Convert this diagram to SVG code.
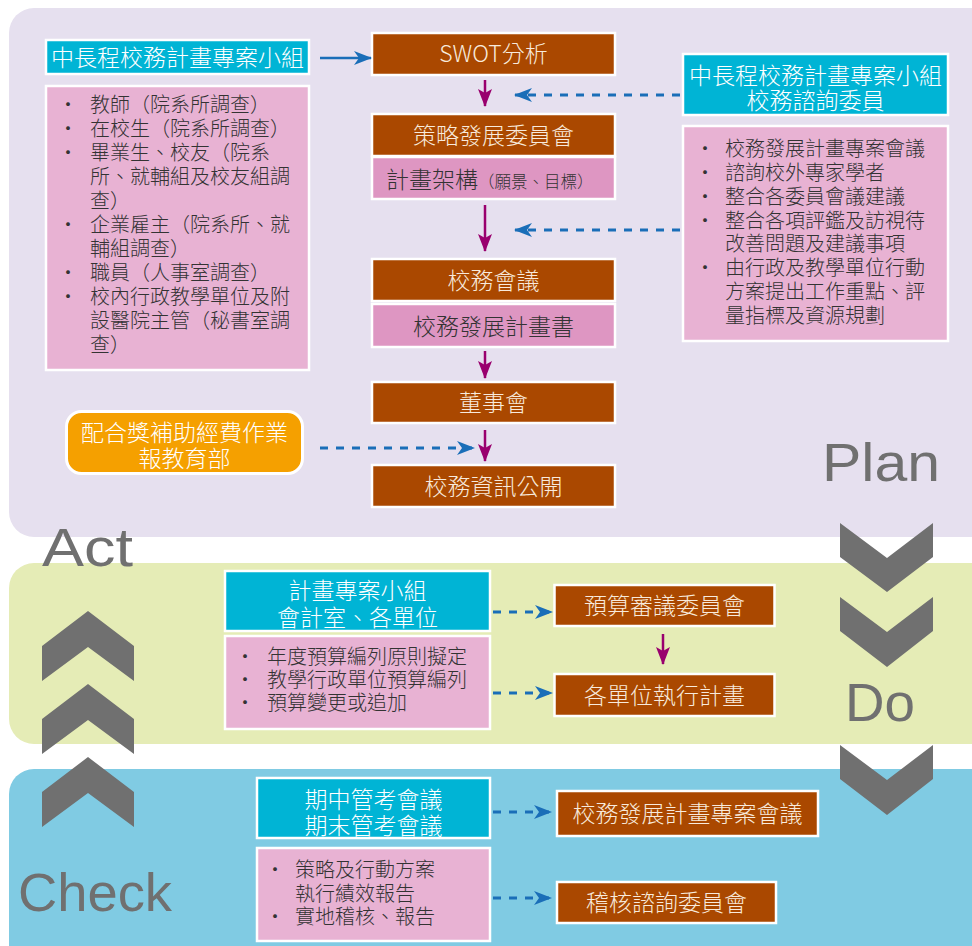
<svg xmlns="http://www.w3.org/2000/svg" width="972" height="946" viewBox="0 0 972 946">
<style>
text{font-family:"Noto Sans CJK TC","Noto Sans CJK SC","Liberation Sans",sans-serif;font-weight:300;}
.brown{fill:#AA4800;stroke:#fff;stroke-width:2.5;}
.cyan{fill:#00B4D5;stroke:#fff;stroke-width:2.5;}
.pink{fill:#E8B2D3;stroke:#fff;stroke-width:2.5;}
.pink2{fill:#DE96C2;stroke:#fff;stroke-width:2.5;}
.orange{fill:#F5A000;stroke:#fff;stroke-width:3;}
.tb{fill:#F8EADC;font-size:23px;text-anchor:middle;}
.tc{fill:#fff;font-size:23px;text-anchor:middle;}
.tp{fill:#333;font-size:20px;}
.bul{fill:#333;font-size:20px;text-anchor:middle;}
.tpc{fill:#333;font-size:23px;text-anchor:middle;}
.chev{fill:#707070;}
.pdca{fill:#707070;font-family:"Liberation Sans","Open Sans",sans-serif;font-weight:400;font-size:53px;}
.solid{stroke:#1A6EB8;stroke-width:2.5;fill:none;}
.dash{stroke:#1A6EB8;stroke-width:3;fill:none;stroke-dasharray:8 8;}
.purple{stroke:#99006E;stroke-width:2.5;fill:none;}
</style>
<defs>
<marker id="ab" markerUnits="userSpaceOnUse" markerWidth="18" markerHeight="14" refX="17" refY="7" orient="auto">
<path d="M0,0 L18,7 L0,14 L5,7 Z" fill="#1A6EB8"/>
</marker>
<marker id="ap" markerUnits="userSpaceOnUse" markerWidth="18" markerHeight="14" refX="17" refY="7" orient="auto">
<path d="M0,0 L18,7 L0,14 L4,7 Z" fill="#99006E"/>
</marker>
</defs>

<g id="panels">
<rect x="9" y="8" width="990" height="529" rx="25" fill="#E6E0EF"/>
<rect x="9" y="563" width="990" height="181" rx="25" fill="#E5ECB6"/>
<rect x="9" y="769" width="990" height="220" rx="25" fill="#80CBE3"/>
</g>

<g id="chevrons">
<polygon class="chev" points="840,523 887,558 933,523 933,557 887,592 840,557"/>
<polygon class="chev" points="840,597 887,632 933,597 933,631 887,667 840,631"/>
<polygon class="chev" points="840,745 887,780 933,745 933,779 887,815 840,779"/>
<polygon class="chev" points="88,611 134,646 134,681 88,647 42,681 42,646"/>
<polygon class="chev" points="88,684 134,719 134,754 88,720 42,754 42,719"/>
<polygon class="chev" points="88,757 134,792 134,827 88,793 42,827 42,792"/>
</g>

<g id="labels">
<text class="pdca" x="822" y="481" textLength="118" lengthAdjust="spacingAndGlyphs">Plan</text>
<text class="pdca" x="42" y="566" textLength="91" lengthAdjust="spacingAndGlyphs">Act</text>
<text class="pdca" x="845" y="721" textLength="70" lengthAdjust="spacingAndGlyphs">Do</text>
<text class="pdca" x="18" y="911" textLength="154" lengthAdjust="spacingAndGlyphs">Check</text>
</g>

<g id="plan-team">
<rect class="cyan" x="46" y="40" width="263" height="34"/>
<text class="tc" x="177.5" y="66">中長程校務計畫專案小組</text>
</g>

<g id="plan-survey">
<rect class="pink" x="46" y="86" width="263" height="284"/>
<text class="bul" x="68" y="112">・</text><text class="tp" x="90" y="112">教師（院系所調查）</text>
<text class="bul" x="68" y="136">・</text><text class="tp" x="90" y="136">在校生（院系所調查）</text>
<text class="bul" x="68" y="160">・</text><text class="tp" x="90" y="160">畢業生、校友（院系</text>
<text class="tp" x="90" y="184">所、就輔組及校友組調</text>
<text class="tp" x="90" y="208">查）</text>
<text class="bul" x="68" y="232">・</text><text class="tp" x="90" y="232">企業雇主（院系所、就</text>
<text class="tp" x="90" y="256">輔組調查）</text>
<text class="bul" x="68" y="280">・</text><text class="tp" x="90" y="280">職員（人事室調查）</text>
<text class="bul" x="68" y="304">・</text><text class="tp" x="90" y="304">校內行政教學單位及附</text>
<text class="tp" x="90" y="328">設醫院主管（秘書室調</text>
<text class="tp" x="90" y="352">查）</text>
</g>

<g id="swot">
<rect class="brown" x="372" y="33" width="243" height="42"/>
<text class="tb" x="493.5" y="62">SWOT分析</text>
</g>

<g id="strategy-committee">
<rect class="brown" x="372" y="114" width="243" height="42"/>
<text class="tb" x="493.5" y="143.5">策略發展委員會</text>
</g>

<g id="plan-framework">
<rect class="pink2" x="372" y="157" width="243" height="42"/>
<text x="386" y="188" fill="#333"><tspan font-size="23">計畫架構</tspan><tspan font-size="16.5">（願景、目標）</tspan></text>
</g>

<g id="school-meeting">
<rect class="brown" x="372" y="259" width="243" height="42"/>
<text class="tb" x="493.5" y="288.5">校務會議</text>
</g>

<g id="dev-plan">
<rect class="pink2" x="372" y="304" width="243" height="43"/>
<text class="tpc" x="493.5" y="334.5">校務發展計畫書</text>
</g>

<g id="board">
<rect class="brown" x="372" y="382" width="243" height="41"/>
<text class="tb" x="493.5" y="411">董事會</text>
</g>

<g id="disclosure">
<rect class="brown" x="372" y="465" width="243" height="42"/>
<text class="tb" x="493.5" y="494.5">校務資訊公開</text>
</g>

<g id="advisory">
<rect class="cyan" x="683" y="54" width="265" height="61"/>
<text class="tc" x="815.5" y="83.5">中長程校務計畫專案小組</text>
<text class="tc" x="815.5" y="108.5">校務諮詢委員</text>
</g>

<g id="advisory-list">
<rect class="pink" x="683" y="126" width="265" height="215"/>
<text class="bul" x="705" y="155.5">・</text><text class="tp" x="725" y="155.5">校務發展計畫專案會議</text>
<text class="bul" x="705" y="179.5">・</text><text class="tp" x="725" y="179.5">諮詢校外專家學者</text>
<text class="bul" x="705" y="203.5">・</text><text class="tp" x="725" y="203.5">整合各委員會議建議</text>
<text class="bul" x="705" y="227.5">・</text><text class="tp" x="725" y="227.5">整合各項評鑑及訪視待</text>
<text class="tp" x="725" y="251">改善問題及建議事項</text>
<text class="bul" x="705" y="275">・</text><text class="tp" x="725" y="275">由行政及教學單位行動</text>
<text class="tp" x="725" y="299">方案提出工作重點、評</text>
<text class="tp" x="725" y="322.5">量指標及資源規劃</text>
</g>

<g id="subsidy">
<rect class="orange" x="66.5" y="411.5" width="236" height="62" rx="15"/>
<text class="tc" x="184.5" y="440.5">配合獎補助經費作業</text>
<text class="tc" x="184.5" y="466.5">報教育部</text>
</g>

<g id="do-team">
<rect class="cyan" x="225" y="571" width="265" height="60"/>
<text class="tc" x="357.5" y="598.5">計畫專案小組</text>
<text class="tc" x="357.5" y="625.5">會計室、各單位</text>
</g>

<g id="do-list">
<rect class="pink" x="225" y="636" width="265" height="93"/>
<text class="bul" x="245" y="664">・</text><text class="tp" x="267" y="664">年度預算編列原則擬定</text>
<text class="bul" x="245" y="687">・</text><text class="tp" x="267" y="687">教學行政單位預算編列</text>
<text class="bul" x="245" y="710">・</text><text class="tp" x="267" y="710">預算變更或追加</text>
</g>

<g id="budget-committee">
<rect class="brown" x="554.5" y="585" width="220" height="41"/>
<text class="tb" x="664.5" y="613.5">預算審議委員會</text>
</g>

<g id="unit-execution">
<rect class="brown" x="554.5" y="674" width="220" height="42"/>
<text class="tb" x="664.5" y="703.5">各單位執行計畫</text>
</g>

<g id="check-meetings">
<rect class="cyan" x="257" y="778" width="233" height="60"/>
<text class="tc" x="373.5" y="807.5">期中管考會議</text>
<text class="tc" x="373.5" y="833.5">期末管考會議</text>
</g>

<g id="check-list">
<rect class="pink" x="257" y="848" width="233" height="93"/>
<text class="bul" x="275" y="876.5">・</text><text class="tp" x="295" y="876.5">策略及行動方案</text>
<text class="tp" x="295" y="900.5">執行績效報告</text>
<text class="bul" x="275" y="923.5">・</text><text class="tp" x="295" y="923.5">實地稽核、報告</text>
</g>

<g id="dev-plan-meeting">
<rect class="brown" x="557" y="791" width="261" height="45"/>
<text class="tb" x="687.5" y="822">校務發展計畫專案會議</text>
</g>

<g id="audit-committee">
<rect class="brown" x="557" y="882" width="219" height="41"/>
<text class="tb" x="666.5" y="910.5">稽核諮詢委員會</text>
</g>

<g id="connectors">
<line class="solid" x1="320" y1="58" x2="371" y2="58" marker-end="url(#ab)"/>
<line class="dash" x1="680" y1="95" x2="515" y2="95" marker-end="url(#ab)"/>
<line class="dash" x1="680" y1="230" x2="515" y2="230" marker-end="url(#ab)"/>
<line class="dash" x1="320" y1="448" x2="474" y2="448" marker-end="url(#ab)"/>
<line class="purple" x1="485" y1="80" x2="485" y2="106" marker-end="url(#ap)"/>
<line class="purple" x1="485" y1="205" x2="485" y2="251" marker-end="url(#ap)"/>
<line class="purple" x1="485" y1="351" x2="485" y2="378" marker-end="url(#ap)"/>
<line class="purple" x1="485" y1="430" x2="485" y2="461" marker-end="url(#ap)"/>
<line class="purple" x1="663" y1="634" x2="663" y2="664" marker-end="url(#ap)"/>
<line class="dash" x1="493" y1="612" x2="552" y2="612" marker-end="url(#ab)"/>
<line class="dash" x1="493" y1="693" x2="552" y2="693" marker-end="url(#ab)"/>
<line class="dash" x1="493" y1="812" x2="551" y2="812" marker-end="url(#ab)"/>
<line class="dash" x1="493" y1="898" x2="551" y2="898" marker-end="url(#ab)"/>
</g>
</svg>
